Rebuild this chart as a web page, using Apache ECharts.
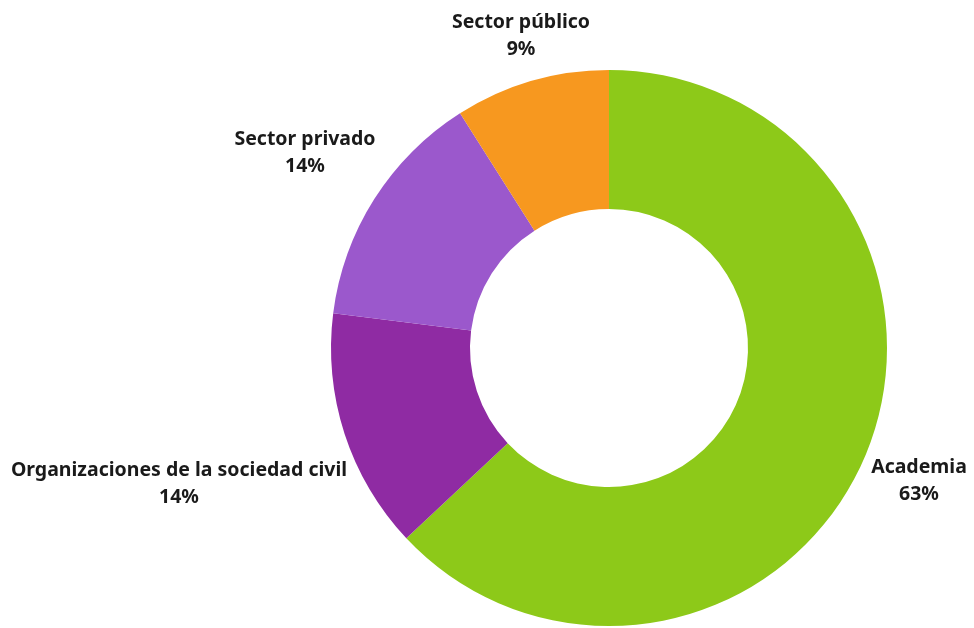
<!DOCTYPE html>
<html>
<head>
<meta charset="utf-8">
<script src="https://cdn.jsdelivr.net/npm/echarts@6/dist/echarts.min.js"></script>
<style>
html,body{margin:0;padding:0;background:#fff;}
#chart{width:974px;height:628px;}
</style>
</head>
<body>
<div id="chart"></div>
<script>
const categories = ['Academia', 'Organizaciones de la sociedad civil', 'Sector privado', 'Sector público'];
const values = [63, 14, 14, 9];
const colors = ['#8dc919', '#8f2ba3', '#9b58cc', '#f7981f'];

// label centre positions (layout only)
const labelPos = [[919, 481], [179, 484], [305, 153], [521, 36]];

const chart = echarts.init(document.getElementById('chart'), null, {renderer: 'canvas'});
chart.setOption({
  animation: false,
  backgroundColor: '#ffffff',
  series: [{
    type: 'pie',
    center: [609, 348],
    radius: [139, 278],
    startAngle: 90,
    clockwise: true,
    avoidLabelOverlap: false,
    data: categories.map((c, i) => ({name: c, value: values[i], itemStyle: {color: colors[i]}})),
    itemStyle: {borderWidth: 0},
    label: {
      show: true,
      position: 'outside',
      formatter: p => p.name + '\n' + p.value + '%',
      fontFamily: 'Noto Sans',
      fontWeight: 'bold',
      fontSize: 19.5,
      lineHeight: 27,
      color: '#1a1a1a',
      align: 'center'
    },
    labelLine: {show: false},
    labelLayout: function (params) {
      const p = labelPos[params.dataIndex];
      return {x: p[0], y: p[1], align: 'center', verticalAlign: 'middle'};
    }
  }]
});
</script>
</body>
</html>
